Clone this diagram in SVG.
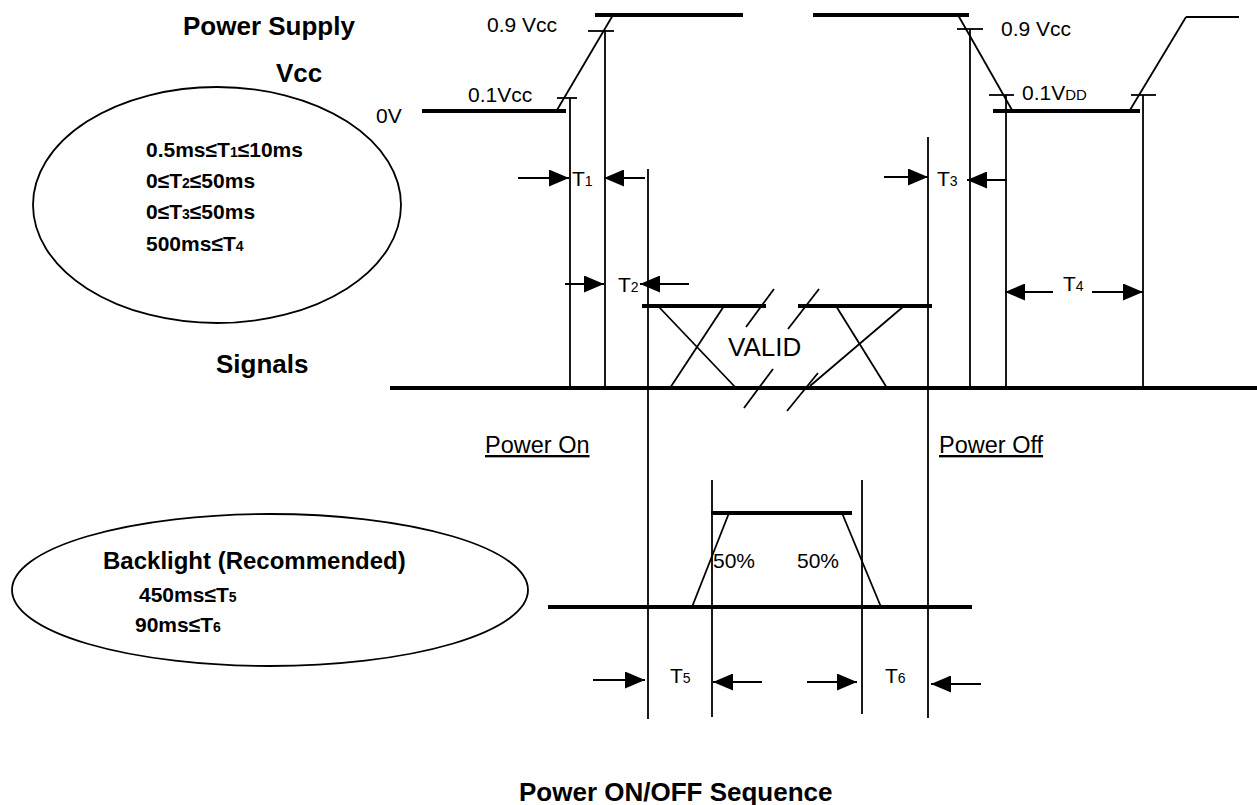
<svg xmlns="http://www.w3.org/2000/svg" width="1257" height="805" viewBox="0 0 1257 805">
<style>
text{font-family:"Liberation Sans",Arial,sans-serif;fill:#000}
.t{font-size:26px;font-weight:bold}
.r{font-size:21px}
.p{font-size:23.5px}
.e{font-size:21px;font-weight:bold}
.s{font-size:14px}
.thin{stroke:#000;stroke-width:1.8;fill:none}
.thick{stroke:#000;stroke-width:4;fill:none}
.arr{stroke:#000;stroke-width:1.8;fill:none;marker-end:url(#ah)}
</style>
<defs>
<marker id="ah" markerUnits="userSpaceOnUse" markerWidth="20" markerHeight="17" refX="20" refY="8.5" orient="auto">
<path d="M0,0 L20,8.5 L0,17 z" fill="#000"/>
</marker>
</defs>
<rect width="1257" height="805" fill="#fff"/>

<g id="labels">
<text class="t" x="183" y="35">Power Supply</text>
<text class="t" x="276" y="82">Vcc</text>
<text class="t" x="216" y="373">Signals</text>
<text class="r" x="376" y="123">0V</text>
<text class="r" x="487" y="32">0.9 Vcc</text>
<text class="r" x="468" y="102">0.1Vcc</text>
<text class="r" x="1001" y="36">0.9 Vcc</text>
<text class="r" x="1022" y="100">0.1V<tspan font-size="15">DD</tspan></text>
<text class="p" x="485" y="453" text-decoration="underline">Power On</text>
<text class="p" x="939" y="453" text-decoration="underline">Power Off</text>
<text style="font-size:26px;font-weight:bold" x="519" y="801">Power ON/OFF Sequence</text>
</g>

<g id="spec-ellipse">
<ellipse cx="217" cy="205" rx="184" ry="118" class="thin" stroke-width="2"/>
<text class="e" x="146" y="157">0.5ms≤T<tspan class="s">1</tspan>≤10ms</text>
<text class="e" x="146" y="188">0≤T<tspan class="s">2</tspan>≤50ms</text>
<text class="e" x="146" y="219">0≤T<tspan class="s">3</tspan>≤50ms</text>
<text class="e" x="146" y="251">500ms≤T<tspan class="s">4</tspan></text>
</g>

<g id="backlight-ellipse">
<ellipse cx="270" cy="590" rx="258" ry="76" class="thin" stroke-width="2"/>
<text style="font-size:24px;font-weight:bold" x="103" y="569">Backlight (Recommended)</text>
<text class="e" x="139" y="602">450ms≤T<tspan class="s">5</tspan></text>
<text class="e" x="135" y="632">90ms≤T<tspan class="s">6</tspan></text>
</g>

<g id="power-waveform">
<line class="thick" x1="422" y1="111" x2="566" y2="111"/>
<line class="thin" x1="557" y1="110" x2="613" y2="15"/>
<line class="thick" x1="595" y1="15" x2="743" y2="15"/>
<line class="thick" x1="813" y1="15" x2="969" y2="15"/>
<line class="thin" x1="958" y1="15" x2="1012" y2="110"/>
<line class="thick" x1="993" y1="111" x2="1140" y2="111"/>
<line class="thin" x1="1130" y1="110" x2="1186" y2="17"/>
<line class="thin" x1="1186" y1="17" x2="1239" y2="17"/>
<line class="thin" x1="557" y1="98" x2="577" y2="98"/>
<line class="thin" x1="588" y1="31" x2="614" y2="31"/>
<line class="thin" x1="957" y1="29" x2="983" y2="29"/>
<line class="thin" x1="989" y1="95" x2="1014" y2="95"/>
<line class="thin" x1="1131" y1="95" x2="1156" y2="95"/>
</g>

<g id="signal-waveform">
<line class="thick" x1="390" y1="388" x2="1257" y2="388"/>
<line class="thick" x1="642" y1="306" x2="766" y2="306" stroke-width="3.5"/>
<line class="thick" x1="798" y1="306" x2="932" y2="306" stroke-width="3.5"/>
<line class="thin" x1="658" y1="306" x2="736" y2="388"/>
<line class="thin" x1="724" y1="306" x2="670" y2="388"/>
<line class="thin" x1="836" y1="306" x2="887" y2="388"/>
<line class="thin" x1="904" y1="306" x2="810" y2="386"/>
<line class="thin" x1="746" y1="327" x2="774" y2="289"/>
<line class="thin" x1="788" y1="329" x2="819" y2="289"/>
<line class="thin" x1="744" y1="408" x2="773" y2="369"/>
<line class="thin" x1="787" y1="411" x2="818" y2="373"/>
<text style="font-size:26px" x="728" y="356">VALID</text>
</g>

<g id="backlight-waveform">
<line class="thick" x1="548" y1="607" x2="972" y2="607"/>
<line class="thick" x1="711" y1="513" x2="852" y2="513" stroke-width="3.5"/>
<line class="thin" x1="692" y1="607" x2="729" y2="513"/>
<line class="thin" x1="842" y1="513" x2="881" y2="607"/>
<text class="r" x="713" y="568">50%</text>
<text class="r" x="797" y="568">50%</text>
</g>

<g id="connectors">
<line class="thin" x1="570" y1="98" x2="570" y2="388"/>
<line class="thin" x1="605" y1="31" x2="605" y2="388"/>
<line class="thin" x1="648" y1="169" x2="648" y2="719"/>
<line class="thin" x1="928" y1="137" x2="928" y2="718"/>
<line class="thin" x1="970" y1="29" x2="970" y2="388"/>
<line class="thin" x1="1006" y1="95" x2="1006" y2="388"/>
<line class="thin" x1="1143" y1="95" x2="1143" y2="388"/>
<line class="thin" x1="712" y1="480" x2="712" y2="717"/>
<line class="thin" x1="862" y1="480" x2="862" y2="714"/>
<line class="arr" x1="518" y1="178" x2="569" y2="178"/>
<line class="arr" x1="645" y1="178" x2="604" y2="178"/>
<line class="arr" x1="565" y1="284" x2="604" y2="284"/>
<line class="arr" x1="689" y1="284" x2="640" y2="284"/>
<line class="arr" x1="884" y1="177" x2="928" y2="177"/>
<line class="arr" x1="1007" y1="180" x2="967" y2="180"/>
<line class="arr" x1="1053" y1="292" x2="1005" y2="292"/>
<line class="arr" x1="1092" y1="292" x2="1143" y2="292"/>
<line class="arr" x1="593" y1="680" x2="645" y2="680"/>
<line class="arr" x1="762" y1="682" x2="713" y2="682"/>
<line class="arr" x1="807" y1="682" x2="857" y2="682"/>
<line class="arr" x1="981" y1="684" x2="931" y2="684"/>
</g>

<g id="time-labels">
<text class="r" x="572" y="186">T<tspan class="s">1</tspan></text>
<text class="r" x="618" y="292">T<tspan class="s">2</tspan></text>
<text class="r" x="937" y="186">T<tspan class="s">3</tspan></text>
<text class="r" x="1063" y="291">T<tspan class="s">4</tspan></text>
<text class="r" x="670" y="683">T<tspan class="s">5</tspan></text>
<text class="r" x="885" y="683">T<tspan class="s">6</tspan></text>
</g>
</svg>
